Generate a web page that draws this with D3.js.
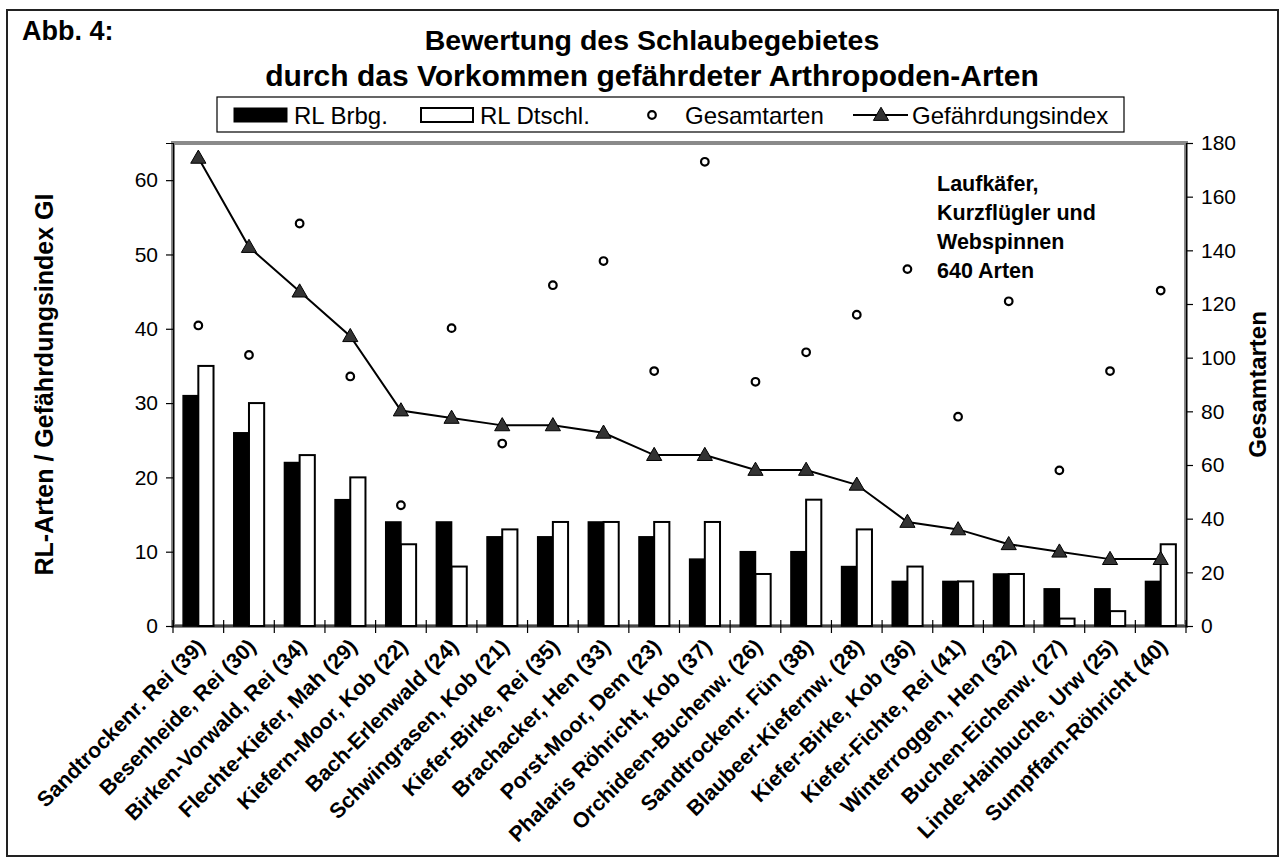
<!DOCTYPE html>
<html>
<head>
<meta charset="utf-8">
<script src="https://cdn.jsdelivr.net/npm/d3@7/dist/d3.min.js"></script>
<style>
  body { margin: 0; background: #fff; }
  text { font-family: "Liberation Sans", Arial, sans-serif; fill: #000; }
</style>
</head>
<body>
<svg id="chart" width="1280" height="859"></svg>
<script>
const categories = [
    "Sandtrockenr. Rei (39)", "Besenheide, Rei (30)", "Birken-Vorwald, Rei (34)",
    "Flechte-Kiefer, Mah (29)", "Kiefern-Moor, Kob (22)", "Bach-Erlenwald (24)",
    "Schwingrasen, Kob (21)", "Kiefer-Birke, Rei (35)", "Brachacker, Hen (33)",
    "Porst-Moor, Dem (23)", "Phalaris Röhricht, Kob (37)", "Orchideen-Buchenw. (26)",
    "Sandtrockenr. Fün (38)", "Blaubeer-Kiefernw. (28)", "Kiefer-Birke, Kob (36)",
    "Kiefer-Fichte, Rei (41)", "Winterroggen, Hen (32)", "Buchen-Eichenw. (27)",
    "Linde-Hainbuche, Urw (25)", "Sumpffarn-Röhricht (40)"
];
const rlBrbg = [31, 26, 22, 17, 14, 14, 12, 12, 14, 12, 9, 10, 10, 8, 6, 6, 7, 5, 5, 6];
const rlDtschl = [35, 30, 23, 20, 11, 8, 13, 14, 14, 14, 14, 7, 17, 13, 8, 6, 7, 1, 2, 11];
const gesamtarten = [112, 101, 150, 93, 45, 111, 68, 127, 136, 95, 173, 91, 102, 116, 133, 78, 121, 58, 95, 125];
const gefIndex = [63, 51, 45, 39, 29, 28, 27, 27, 26, 23, 23, 21, 21, 19, 14, 13, 11, 10, 9, 9];

const leftTicks = [0, 10, 20, 30, 40, 50, 60];
const rightTicks = [0, 20, 40, 60, 80, 100, 120, 140, 160, 180];

const svg = d3.select("#chart");
const pLeft = 173, pRight = 1186, pTop = 143, pBottom = 626;

// outer frame
svg.append("rect")
    .attr("x", 7).attr("y", 10)
    .attr("width", 1271).attr("height", 846)
    .attr("fill", "#fff")
    .attr("stroke", "#222")
    .attr("stroke-width", 2);

const x0 = d3.scaleBand()
    .domain(categories)
    .range([pLeft, pRight])
    .paddingInner(0.4)
    .paddingOuter(0.2);

const x1 = d3.scaleBand()
    .domain(["brbg", "dt"])
    .range([0, x0.bandwidth()]);

const yL = d3.scaleLinear().domain([0, 65]).range([pBottom, pTop]);
const yR = d3.scaleLinear().domain([0, 180]).range([pBottom, pTop]);

// plot area border
svg.append("rect")
    .attr("x", pLeft).attr("y", pTop)
    .attr("width", pRight - pLeft).attr("height", pBottom - pTop)
    .attr("fill", "none")
    .attr("stroke", "#8a8a8a")
    .attr("stroke-width", 4);

const cx = function (d) { return x0(d) + x0.bandwidth() / 2; };

const rows = categories.map(function (c, i) {
    return {cat: c, brbg: rlBrbg[i], dt: rlDtschl[i], ges: gesamtarten[i], gi: gefIndex[i]};
});

// bars
svg.append("g").selectAll("rect")
    .data(rows)
    .enter().append("rect")
    .attr("x", function (d) { return x0(d.cat) + x1("brbg"); })
    .attr("y", function (d) { return yL(d.brbg); })
    .attr("width", x1.bandwidth())
    .attr("height", function (d) { return pBottom - yL(d.brbg); })
    .attr("fill", "#000")
    .attr("stroke", "#000")
    .attr("stroke-width", 1.5);

svg.append("g").selectAll("rect")
    .data(rows)
    .enter().append("rect")
    .attr("x", function (d) { return x0(d.cat) + x1("dt"); })
    .attr("y", function (d) { return yL(d.dt); })
    .attr("width", x1.bandwidth())
    .attr("height", function (d) { return pBottom - yL(d.dt); })
    .attr("fill", "#fff")
    .attr("stroke", "#000")
    .attr("stroke-width", 2);

// axes
const axisL = svg.append("g")
    .attr("transform", "translate(" + pLeft + ",0)")
    .call(d3.axisLeft(yL).tickValues(leftTicks).tickSize(7).tickPadding(8));
const axisR = svg.append("g")
    .attr("transform", "translate(" + pRight + ",0)")
    .call(d3.axisRight(yR).tickValues(rightTicks).tickSize(7).tickPadding(8));
[axisL, axisR].forEach(function (a) {
    a.select(".domain").attr("stroke", "#000").attr("stroke-width", 1.2);
    a.selectAll("line").attr("stroke", "#000").attr("stroke-width", 1.2);
    a.selectAll("text")
        .style("font-family", "'Liberation Sans', Arial, sans-serif")
        .style("font-size", "21px")
        .attr("fill", "#000");
});

// bottom axis with ticks at category boundaries
const bounds = d3.range(categories.length + 1).map(function (i) {
    return pLeft + i * x0.step();
});
svg.append("line")
    .attr("x1", pLeft).attr("x2", pRight)
    .attr("y1", pBottom).attr("y2", pBottom)
    .attr("stroke", "#000").attr("stroke-width", 1.2);
svg.append("g").selectAll("line")
    .data(bounds)
    .enter().append("line")
    .attr("x1", function (d) { return d; })
    .attr("x2", function (d) { return d; })
    .attr("y1", pBottom - 6)
    .attr("y2", pBottom + 7)
    .attr("stroke", "#000")
    .attr("stroke-width", 1.2);

// category labels
svg.append("g").selectAll("text")
    .data(categories)
    .enter().append("text")
    .attr("transform", function (d) {
        return "translate(" + (cx(d) + 8) + "," + 648 + ") rotate(-45)";
    })
    .attr("text-anchor", "end")
    .style("font-size", "21.5px")
    .style("font-weight", "bold")
    .text(function (d) { return d; });

// Gefährdungsindex line
const line = d3.line()
    .x(function (d) { return cx(d.cat); })
    .y(function (d) { return yL(d.gi); });

svg.append("path")
    .datum(rows)
    .attr("d", line)
    .attr("fill", "none")
    .attr("stroke", "#000")
    .attr("stroke-width", 2);

const tri = d3.symbol().type(d3.symbolTriangle).size(100);

svg.append("g").selectAll("path")
    .data(rows)
    .enter().append("path")
    .attr("d", tri)
    .attr("transform", function (d) {
        return "translate(" + cx(d.cat) + "," + (yL(d.gi) + 1) + ")";
    })
    .attr("fill", "#333")
    .attr("stroke", "#000")
    .attr("stroke-width", 1);

// Gesamtarten points
svg.append("g").selectAll("circle")
    .data(rows)
    .enter().append("circle")
    .attr("cx", function (d) { return cx(d.cat); })
    .attr("cy", function (d) { return yR(d.ges); })
    .attr("r", 3.8)
    .attr("fill", "#fff")
    .attr("stroke", "#000")
    .attr("stroke-width", 2.2);

// titles
svg.append("text")
    .attr("x", 22).attr("y", 40)
    .style("font-size", "27px").style("font-weight", "bold")
    .text("Abb. 4:");

const titleLines = ["Bewertung des Schlaubegebietes", "durch das Vorkommen gefährdeter Arthropoden-Arten"];
svg.append("g").selectAll("text")
    .data(titleLines)
    .enter().append("text")
    .attr("x", 652)
    .attr("y", function (d, i) { return 50 + i * 36; })
    .attr("text-anchor", "middle")
    .style("font-size", function (d, i) { return i === 0 ? "28.5px" : "30px"; })
    .style("font-weight", "bold")
    .text(function (d) { return d; });

svg.append("text")
    .attr("transform", "translate(53," + ((pTop + pBottom) / 2) + ") rotate(-90)")
    .attr("text-anchor", "middle")
    .style("font-size", "25px").style("font-weight", "bold")
    .text("RL-Arten / Gefährdungsindex GI");

svg.append("text")
    .attr("transform", "translate(1266," + ((pTop + pBottom) / 2) + ") rotate(-90)")
    .attr("text-anchor", "middle")
    .style("font-size", "24px").style("font-weight", "bold")
    .text("Gesamtarten");

// annotation
const note = ["Laufkäfer,", "Kurzflügler und", "Webspinnen", "640 Arten"];
svg.append("g").selectAll("text")
    .data(note)
    .enter().append("text")
    .attr("x", 937)
    .attr("y", function (d, i) { return 191 + i * 29; })
    .style("font-size", "21.5px").style("font-weight", "bold")
    .text(function (d) { return d; });

// legend
const lg = svg.append("g");
lg.append("rect")
    .attr("x", 217).attr("y", 97)
    .attr("width", 907).attr("height", 35)
    .attr("fill", "#fff").attr("stroke", "#000").attr("stroke-width", 1.2);

const ly = 115;
lg.append("rect").attr("x", 234).attr("y", 108).attr("width", 53).attr("height", 14)
    .attr("fill", "#000").attr("stroke", "#000");
lg.append("rect").attr("x", 421).attr("y", 108).attr("width", 52).attr("height", 14)
    .attr("fill", "#fff").attr("stroke", "#000").attr("stroke-width", 2);
lg.append("circle").attr("cx", 652).attr("cy", ly).attr("r", 3.8)
    .attr("fill", "#fff").attr("stroke", "#000").attr("stroke-width", 2.2);
lg.append("line").attr("x1", 853).attr("x2", 908).attr("y1", ly).attr("y2", ly)
    .attr("stroke", "#000").attr("stroke-width", 2);
lg.append("path").attr("d", tri).attr("transform", "translate(881," + (ly + 1) + ")")
    .attr("fill", "#333").attr("stroke", "#000");

const legendItems = [
    {label: "RL Brbg.", x: 294},
    {label: "RL Dtschl.", x: 480},
    {label: "Gesamtarten", x: 685},
    {label: "Gefährdungsindex", x: 912}
];
lg.selectAll("text.lbl")
    .data(legendItems)
    .enter().append("text")
    .attr("class", "lbl")
    .attr("x", function (d) { return d.x; })
    .attr("y", 124)
    .style("font-size", "24px")
    .text(function (d) { return d.label; });
</script>
</body>
</html>
